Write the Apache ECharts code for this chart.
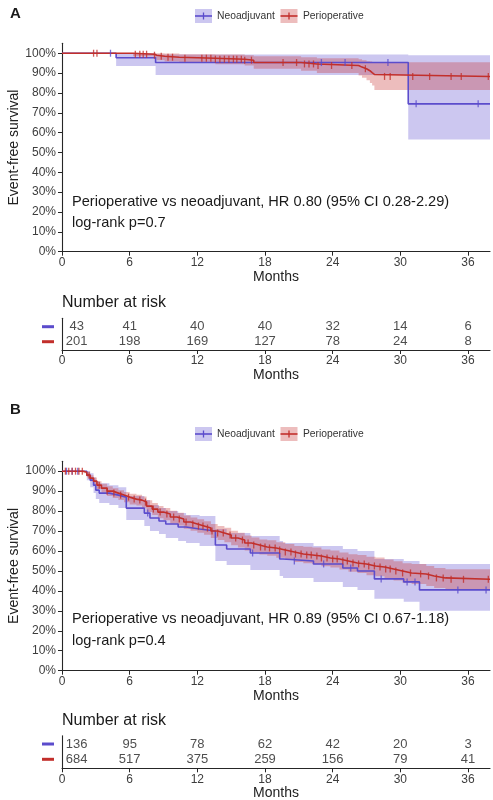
<!DOCTYPE html>
<html><head><meta charset="utf-8">
<script src="https://cdn.jsdelivr.net/npm/echarts@6/dist/echarts.min.js"></script>
<style>html,body{margin:0;padding:0;background:#fff}#c{width:493px;height:800px}</style>
</head><body><div id="c"></div>
<script>
const XMAX = 37.95;
const monthTicks = [0, 6, 12, 18, 24, 30, 36];
const pctTicks = [0, 0.1, 0.2, 0.3, 0.4, 0.5, 0.6, 0.7, 0.8, 0.9, 1.0];
const groups = ['Neoadjuvant', 'Perioperative'];

// ---- Panel A ----
const aNeoT  = [0, 4.8, 8.3, 30.7];
const aNeoS  = [1, 0.977, 0.953, 0.745];
const aNeoHi = [1, 1, 0.993, 0.99];
const aNeoLo = [1, 0.935, 0.89, 0.565];
const aNeoCens = [4.3, 23.0, 25.1, 28.9, 31.4, 36.9];

const aPerT  = [0, 6.3, 8.2, 8.4, 9.1, 10.4, 13.6, 16.2, 17.0, 21.2, 22.6, 26.3, 26.6, 27.0, 27.3, 27.5, 27.7];
const aPerS  = [1, 0.995, 0.99, 0.985, 0.98, 0.975, 0.97, 0.965, 0.953, 0.946, 0.938, 0.93, 0.922, 0.912, 0.902, 0.893, 0.883];
const aPerHi = [1, 1, 1, 1, 0.998, 0.995, 0.993, 0.99, 0.985, 0.98, 0.975, 0.97, 0.965, 0.96, 0.958, 0.955, 0.954];
const aPerLo = [1, 0.985, 0.975, 0.965, 0.958, 0.952, 0.945, 0.938, 0.922, 0.912, 0.9, 0.888, 0.877, 0.864, 0.85, 0.838, 0.815];
const aPerCens = [2.8, 3.1, 6.5, 6.9, 7.2, 7.5, 8.2, 8.8, 9.4, 9.8, 10.9, 12.4, 12.8, 13.2, 13.6, 14.0, 14.4, 14.8, 15.2, 15.5, 15.9, 16.2, 16.8, 19.6, 20.8, 21.5, 21.9, 22.3, 22.7, 23.9, 25.7, 26.9, 28.6, 29.1, 31.1, 32.6, 34.5, 35.4, 37.8];

const aRiskNeo = [43, 41, 40, 40, 32, 14, 6];
const aRiskPer = [201, 198, 169, 127, 78, 24, 8];
const aText1 = 'Perioperative vs neoadjuvant, HR 0.80 (95% CI 0.28-2.29)';
const aText2 = 'log-rank p=0.7';

// ---- Panel B ----
const bNeoT  = [0, 2.2, 2.5, 2.8, 3.0, 3.3, 4.2, 5.0, 5.7, 7.3, 7.8, 8.6, 9.2, 10.3, 11.0, 12.2, 13.6, 14.6, 16.7, 19.3, 19.6, 22.3, 24.9, 26.2, 27.7, 30.3, 31.7];
const bNeoS  = [1, 0.98, 0.955, 0.93, 0.905, 0.89, 0.88, 0.87, 0.815, 0.79, 0.765, 0.75, 0.735, 0.72, 0.71, 0.70, 0.63, 0.61, 0.59, 0.56, 0.55, 0.535, 0.515, 0.50, 0.46, 0.445, 0.405];
const bNeoHi = [1, 1, 0.99, 0.97, 0.95, 0.94, 0.93, 0.92, 0.875, 0.855, 0.83, 0.815, 0.80, 0.79, 0.78, 0.775, 0.71, 0.69, 0.675, 0.65, 0.64, 0.625, 0.61, 0.60, 0.56, 0.55, 0.535];
const bNeoLo = [1, 0.955, 0.92, 0.89, 0.86, 0.84, 0.83, 0.815, 0.755, 0.725, 0.70, 0.685, 0.665, 0.65, 0.64, 0.625, 0.55, 0.53, 0.505, 0.475, 0.465, 0.445, 0.42, 0.405, 0.36, 0.345, 0.30];
const bNeoCens = [0.4, 0.9, 1.4, 7.6, 16.9, 20.6, 23.2, 25.6, 28.3, 30.6, 31.3, 35.1, 37.6];

const bPerT  = [0, 1.9, 2.2, 2.5, 2.8, 3.1, 3.5, 4.0, 4.5, 5.0, 5.5, 6.0, 6.6, 7.1, 7.5, 8.0, 8.5, 9.0, 9.6, 10.2, 10.8, 11.4, 12.0, 12.6, 13.2, 13.8, 14.4, 15.0, 15.6, 16.2, 16.8, 17.5, 18.2, 19.0, 19.8, 20.6, 21.4, 22.2, 23.0, 23.8, 24.6, 25.4, 26.2, 27.0, 27.8, 28.6, 29.4, 30.2, 31.0, 32.3, 33.0, 34.0];
const bPerS  = [1, 0.995, 0.98, 0.965, 0.95, 0.93, 0.915, 0.90, 0.89, 0.88, 0.87, 0.86, 0.855, 0.845, 0.825, 0.81, 0.795, 0.785, 0.77, 0.76, 0.745, 0.735, 0.725, 0.715, 0.70, 0.69, 0.68, 0.665, 0.655, 0.64, 0.63, 0.62, 0.615, 0.605, 0.595, 0.585, 0.58, 0.575, 0.565, 0.56, 0.55, 0.54, 0.535, 0.525, 0.52, 0.51, 0.50, 0.49, 0.485, 0.475, 0.465, 0.458];
const bPerHi = [1, 1, 0.99, 0.98, 0.968, 0.95, 0.937, 0.924, 0.915, 0.905, 0.896, 0.887, 0.882, 0.873, 0.854, 0.84, 0.826, 0.816, 0.802, 0.792, 0.778, 0.768, 0.759, 0.749, 0.735, 0.725, 0.716, 0.701, 0.692, 0.677, 0.668, 0.658, 0.654, 0.644, 0.635, 0.625, 0.621, 0.617, 0.607, 0.603, 0.593, 0.584, 0.58, 0.571, 0.567, 0.557, 0.548, 0.539, 0.535, 0.525, 0.515, 0.508];
const bPerLo = [1, 0.99, 0.97, 0.95, 0.932, 0.91, 0.893, 0.876, 0.865, 0.855, 0.844, 0.833, 0.828, 0.817, 0.796, 0.78, 0.764, 0.754, 0.738, 0.728, 0.712, 0.702, 0.691, 0.681, 0.665, 0.655, 0.644, 0.629, 0.618, 0.603, 0.592, 0.582, 0.576, 0.566, 0.555, 0.545, 0.539, 0.533, 0.523, 0.517, 0.507, 0.496, 0.49, 0.479, 0.473, 0.463, 0.452, 0.441, 0.435, 0.425, 0.415, 0.408];
const bPerCens = [0.3, 0.6, 0.9, 1.2, 1.5, 1.8, 2.4, 3.3, 4.0, 4.6, 5.2, 5.9, 6.4, 6.9, 7.4, 8.1, 8.7, 9.3, 9.9, 10.4, 11.0, 11.6, 12.1, 12.5, 12.9, 13.3, 13.8, 14.3, 14.9, 15.4, 16.0, 16.5, 17.0, 17.6, 18.0, 18.4, 18.9, 19.3, 19.8, 20.3, 20.7, 21.2, 21.7, 22.1, 22.6, 23.0, 23.5, 24.0, 24.4, 24.9, 25.3, 25.8, 26.3, 26.8, 27.2, 27.7, 28.2, 28.7, 29.1, 29.6, 30.2, 30.9, 31.8, 32.5, 33.2, 33.8, 34.5, 35.6, 37.8];

const bRiskNeo = [136, 95, 78, 62, 42, 20, 3];
const bRiskPer = [684, 517, 375, 259, 156, 79, 41];
const bText1 = 'Perioperative vs neoadjuvant, HR 0.89 (95% CI 0.67-1.18)';
const bText2 = 'log-rank p=0.4';

// ---- styling ----
const FONT = 'Liberation Sans, Arial, sans-serif';
const BLUE = '#5b4ccc';
const RED = '#c22f2b';
const BLUE_BAND = 'rgba(100,84,210,0.33)';
const RED_BAND = 'rgba(200,50,50,0.32)';
const AXIS = '#262626';
const TICKLAB = '#3d3d3d';

function kmData(t, s) {
  const d = t.map((x, i) => [x, s[i]]);
  d.push([XMAX, s[s.length - 1]]);
  return d;
}
function survAt(t, s, x) {
  let v = s[0];
  for (let i = 0; i < t.length; i++) if (t[i] <= x) v = s[i];
  return v;
}
function band(t, lo, hi, color, gi) {
  return {
    type: 'custom', xAxisIndex: gi, yAxisIndex: gi, silent: true, z: 1,
    data: [[0, 0.5]],
    renderItem: (params, api) => {
      const pts = [];
      for (let i = 0; i < t.length; i++) {
        const x1 = i + 1 < t.length ? t[i + 1] : XMAX;
        pts.push(api.coord([t[i], hi[i]]), api.coord([x1, hi[i]]));
      }
      for (let i = t.length - 1; i >= 0; i--) {
        const x1 = i + 1 < t.length ? t[i + 1] : XMAX;
        pts.push(api.coord([x1, lo[i]]), api.coord([t[i], lo[i]]));
      }
      return { type: 'polygon', shape: { points: pts }, style: { fill: color } };
    }
  };
}
function km(name, t, s, color, gi, z) {
  return {
    type: 'line', name, xAxisIndex: gi, yAxisIndex: gi, step: 'end', data: kmData(t, s),
    showSymbol: false, symbol: 'none', lineStyle: { color, width: 1.6 }, z, silent: true
  };
}
function cens(t, s, c, color, gi, z) {
  return {
    type: 'scatter', xAxisIndex: gi, yAxisIndex: gi, symbol: 'rect', symbolSize: [1.3, 7],
    itemStyle: { color }, data: c.map(x => [x, survAt(t, s, x)]), z, silent: true
  };
}
function risk(neo, per, gi) {
  const data = [];
  monthTicks.forEach((m, i) => {
    const off = i === 0 ? [14.7, 0] : [0, 0];
    data.push({ value: [m, 2, neo[i]], label: { offset: off } });
    data.push({ value: [m, 1, per[i]], label: { offset: off } });
  });
  return {
    type: 'scatter', xAxisIndex: gi, yAxisIndex: gi, symbolSize: 0, silent: true,
    data,
    label: { show: true, position: 'inside', formatter: p => String(p.value[2]),
      color: '#222', fontSize: 13, fontFamily: FONT }
  };
}
function xAx(gi) {
  return {
    type: 'value', gridIndex: gi, min: 0, max: XMAX,
    axisLine: { show: true, lineStyle: { color: AXIS, width: 1.1 } },
    axisTick: { show: true, customValues: monthTicks, length: 4, lineStyle: { color: AXIS } },
    axisLabel: { customValues: monthTicks, margin: 5, fontSize: 12, color: TICKLAB, fontFamily: FONT },
    splitLine: { show: false },
    name: 'Months', nameLocation: 'middle', nameGap: 18,
    nameTextStyle: { fontSize: 14, color: '#222', fontFamily: FONT }
  };
}
function yPlot(gi) {
  return {
    type: 'value', gridIndex: gi, min: 0, max: 1.05,
    axisLine: { show: true, lineStyle: { color: AXIS, width: 1.1 } },
    axisTick: { show: true, customValues: pctTicks, length: 4, lineStyle: { color: AXIS } },
    axisLabel: { customValues: pctTicks, margin: 6, fontSize: 12, color: TICKLAB, fontFamily: FONT,
      formatter: v => Math.round(v * 100) + '%' },
    splitLine: { show: false },
    name: 'Event-free survival', nameLocation: 'middle', nameGap: 41, nameMoveOverlap: false,
    nameTextStyle: { fontSize: 14, color: '#222', fontFamily: FONT }
  };
}
function yRisk(gi, mn, mx) {
  return {
    type: 'value', gridIndex: gi, min: mn, max: mx,
    axisLine: { show: true, lineStyle: { color: AXIS, width: 1.1 } },
    axisTick: { show: false },
    axisLabel: { customValues: [1, 2], margin: 8,
      formatter: v => v > 1.5 ? '{b|}' : '{r|}',
      rich: { b: { width: 12, height: 3, backgroundColor: BLUE }, r: { width: 12, height: 3, backgroundColor: RED } } },
    splitLine: { show: false }
  };
}
function legendKey(x, cy, lineColor, bandColor) {
  return [
    { type: 'rect', shape: { x: x, y: cy - 7, width: 17, height: 14 }, style: { fill: bandColor } },
    { type: 'line', shape: { x1: x, y1: cy, x2: x + 17, y2: cy }, style: { stroke: lineColor, lineWidth: 1.6 } },
    { type: 'line', shape: { x1: x + 8.5, y1: cy - 3.5, x2: x + 8.5, y2: cy + 3.5 }, style: { stroke: lineColor, lineWidth: 1.3 } }
  ];
}
function legend(cy) {
  return [
    ...legendKey(195, cy, BLUE, BLUE_BAND),
    { type: 'text', x: 217, y: cy, style: { text: groups[0], fontSize: 10.3, fontFamily: FONT, fill: '#333', verticalAlign: 'middle' } },
    ...legendKey(280.5, cy, RED, RED_BAND),
    { type: 'text', x: 303, y: cy, style: { text: groups[1], fontSize: 10.3, fontFamily: FONT, fill: '#333', verticalAlign: 'middle' } }
  ];
}
function txt(s, x, y, size, bold) {
  return { type: 'text', x, y, style: { text: s, fontSize: size, fontFamily: FONT, fill: '#1a1a1a',
    fontWeight: bold ? 'bold' : 'normal', verticalAlign: 'middle' } };
}

const G = { outerBoundsMode: 'none', containLabel: false };
const chart = echarts.init(document.getElementById('c'), null, { renderer: 'canvas' });
chart.setOption({
  animation: false,
  backgroundColor: '#fff',
  grid: [
    Object.assign({ left: 62, top: 43.3, width: 428, height: 208.4 }, G),
    Object.assign({ left: 62, top: 318.3, width: 428, height: 31.7 }, G),
    Object.assign({ left: 62, top: 461.2, width: 428, height: 209.5 }, G),
    Object.assign({ left: 62, top: 735.7, width: 428, height: 32.6 }, G)
  ],
  xAxis: [xAx(0), xAx(1), xAx(2), xAx(3)],
  yAxis: [yPlot(0), yRisk(1, 0.447, 2.56), yPlot(2), yRisk(3, 0.412, 2.543)],
  series: [
    band(aNeoT, aNeoLo, aNeoHi, BLUE_BAND, 0),
    band(aPerT, aPerLo, aPerHi, RED_BAND, 0),
    km(groups[0], aNeoT, aNeoS, BLUE, 0, 3),
    km(groups[1], aPerT, aPerS, RED, 0, 4),
    cens(aNeoT, aNeoS, aNeoCens, BLUE, 0, 5),
    cens(aPerT, aPerS, aPerCens, RED, 0, 6),
    risk(aRiskNeo, aRiskPer, 1),
    band(bNeoT, bNeoLo, bNeoHi, BLUE_BAND, 2),
    band(bPerT, bPerLo, bPerHi, RED_BAND, 2),
    km(groups[0], bNeoT, bNeoS, BLUE, 2, 3),
    km(groups[1], bPerT, bPerS, RED, 2, 4),
    cens(bNeoT, bNeoS, bNeoCens, BLUE, 2, 5),
    cens(bPerT, bPerS, bPerCens, RED, 2, 6),
    risk(bRiskNeo, bRiskPer, 3)
  ],
  graphic: [
    txt('A', 10, 14, 15, true),
    ...legend(16),
    txt(aText1, 72, 201.7, 14.6, false),
    txt(aText2, 72, 222.7, 14.6, false),
    txt('Number at risk', 62, 302.7, 16, false),
    txt('B', 10, 409.5, 15, true),
    ...legend(434),
    txt(bText1, 72, 619, 14.6, false),
    txt(bText2, 72, 640.7, 14.6, false),
    txt('Number at risk', 62, 720.7, 16, false)
  ]
});
</script>
</body></html>
